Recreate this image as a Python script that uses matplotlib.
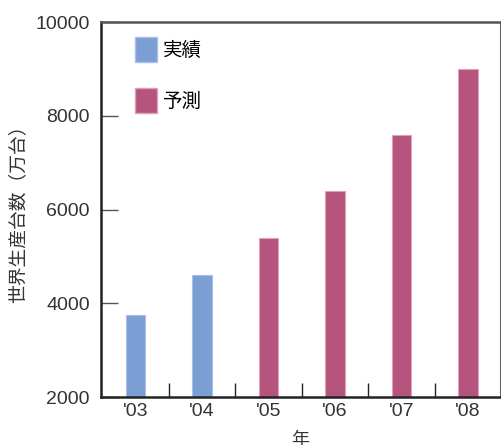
import matplotlib.pyplot as plt
from matplotlib.patches import Patch

plt.rcParams['font.family'] = ['Noto Sans CJK JP', 'DejaVu Sans']

# data
years = ["'03", "'04", "'05", "'06", "'07", "'08"]
values = [3750, 4600, 5400, 6400, 7600, 9000]
kinds = ['実績', '実績', '予測', '予測', '予測', '予測']

colors = {'実績': '#7b9fd4', '予測': '#b5547d'}
edges = {'実績': '#a9c0e6', '予測': '#e0a0bc'}

fig = plt.figure(figsize=(5.01, 4.45), dpi=100)
ax = fig.add_axes([101 / 501, 48 / 445, 399 / 501, 375 / 445])

x = list(range(len(years)))
ax.bar(x, [v - 2000 for v in values], bottom=2000, width=0.29,
       color=[colors[k] for k in kinds], edgecolor=[edges[k] for k in kinds],
       linewidth=0.8)

ax.set_xlim(-0.52, 5.48)
ax.set_ylim(2000, 10000)
ax.set_yticks([2000, 4000, 6000, 8000, 10000])
ax.set_xticks(x)
ax.set_xticklabels(years, fontsize=14, family='Liberation Sans', color='#333333')
ax.set_xticks([i + 0.5 for i in x[:-1]], minor=True)
ax.tick_params(axis='x', which='major', length=0, pad=4)
ax.tick_params(axis='x', which='minor', direction='in', length=10, width=1, color='#222222')
ax.tick_params(axis='y', direction='in', length=12, width=1, color='#555555',
               labelsize=14, pad=8, labelcolor='#333333')
for lab in ax.get_yticklabels():
    lab.set_family('Liberation Sans')

for side in ['left', 'bottom']:
    ax.spines[side].set_linewidth(1.8)
    ax.spines[side].set_color('#222222')
ax.spines['top'].set_linewidth(1.8)
ax.spines['top'].set_color('#555555')
ax.spines['right'].set_linewidth(0.8)
ax.spines['right'].set_color('#666666')

ax.set_ylabel('世界生産台数（万台）', fontsize=13.5, color='#333333', labelpad=5)
ax.set_xlabel('年', fontsize=13, color='#333333', labelpad=8)

handles = [Patch(facecolor=colors[k], edgecolor=edges[k], label=k) for k in ['実績', '予測']]
ax.legend(handles=handles, loc='upper left', bbox_to_anchor=(0.085, 0.96), frameon=False,
          fontsize=14, handlelength=1.15, handleheight=1.6, labelspacing=1.35,
          handletextpad=0.3, borderpad=0, borderaxespad=0)

fig.savefig('out.png', dpi=100)
